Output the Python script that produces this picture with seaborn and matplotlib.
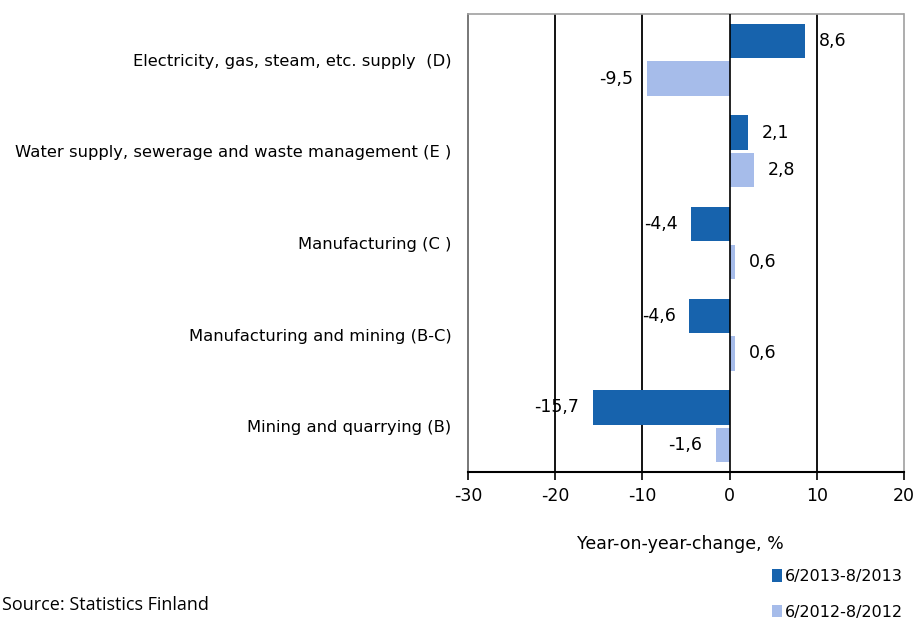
import pandas as pd
import matplotlib.pyplot as plt
import seaborn as sns
from matplotlib.patches import Patch

# 数据
categories = [
    'Electricity, gas, steam, etc. supply  (D)',
    'Water supply, sewerage and waste management (E )',
    'Manufacturing (C )',
    'Manufacturing and mining (B-C)',
    'Mining and quarrying (B)',
]
periods = ['6/2013-8/2013', '6/2012-8/2012']
values_2013 = [8.6, 2.1, -4.4, -4.6, -15.7]
values_2012 = [-9.5, 2.8, 0.6, 0.6, -1.6]
colors = ['#1763AD', '#A6BCEA']

df = pd.DataFrame({
    'category': categories * 2,
    'period': [periods[0]] * len(categories) + [periods[1]] * len(categories),
    'value': values_2013 + values_2012,
})

sns.set_style('white', {'text.color': 'black', 'xtick.color': 'black', 'ytick.color': 'black',
                        'xtick.bottom': True})
plt.rcParams['font.family'] = ['DejaVu Sans']
plt.rcParams['axes.unicode_minus'] = False
plt.rcParams['xtick.major.size'] = 6
plt.rcParams['xtick.major.width'] = 1.2

fig = plt.figure(figsize=(9.15, 6.21), dpi=100)
ax = fig.add_axes([468 / 915, 1 - 472 / 621, 436 / 915, 458 / 621])

sns.barplot(data=df, x='value', y='category', hue='period', orient='h',
            palette=colors, saturation=1, width=0.82, gap=0.08, linewidth=0,
            legend=False, ax=ax, zorder=2)

ax.set_xlim(-30, 20)
ax.set_xticks(range(-30, 21, 10))
ax.set_xticklabels([str(t) for t in range(-30, 21, 10)], fontsize=12.5)
ax.set_ylabel('')
ax.set_xlabel('')
ax.xaxis.set_ticks_position('bottom')
ax.tick_params(axis='y', left=False, length=0, pad=12, labelsize=11.8, labelcolor='black')
ax.tick_params(axis='x', bottom=True, direction='out', length=6, width=1.2, color='black',
               pad=5, labelcolor='black')

# 竖直网格线（0 线画在柱子上面）
for t in [-20, -10, 10]:
    ax.axvline(t, color='black', linewidth=1.3, zorder=1)
ax.axvline(0, color='black', linewidth=1.2, zorder=3)

for side in ['top', 'right']:
    ax.spines[side].set_color('#A0A0A0')
    ax.spines[side].set_linestyle((0, (1, 1)))
    ax.spines[side].set_linewidth(1.2)
ax.spines['left'].set_color('#606060')
ax.spines['left'].set_linewidth(1.2)
ax.spines['bottom'].set_color('black')
ax.spines['bottom'].set_linewidth(1.5)

# 数值标签（逗号小数）
for container, vals in zip(ax.containers, [values_2013, values_2012]):
    labels = [f'{v:.1f}'.replace('.', ',') for v in vals]
    texts = ax.bar_label(container, labels=labels, padding=10, fontsize=12.5, color='black')
    for t in texts:
        t.set_zorder(0.5)

fig.text(680 / 915, 1 - 544 / 621, 'Year-on-year-change, %', ha='center', va='center',
         fontsize=12.5, color='black')

handles = [Patch(facecolor=c, edgecolor='none') for c in colors]
fig.legend(handles, periods, loc='upper left', bbox_to_anchor=(772 / 915, 1 - 569 / 621),
           frameon=False, handlelength=0.6, handleheight=0.8, handletextpad=0.2,
           labelspacing=1.3, fontsize=11.5, borderaxespad=0, borderpad=0, labelcolor='black')

fig.text(2 / 915, 1 - 605 / 621, 'Source: Statistics Finland', ha='left', va='center',
         fontsize=13, color='black', family=['Open Sans', 'DejaVu Sans'])

plt.savefig('out.png', dpi=100)
plt.close()
